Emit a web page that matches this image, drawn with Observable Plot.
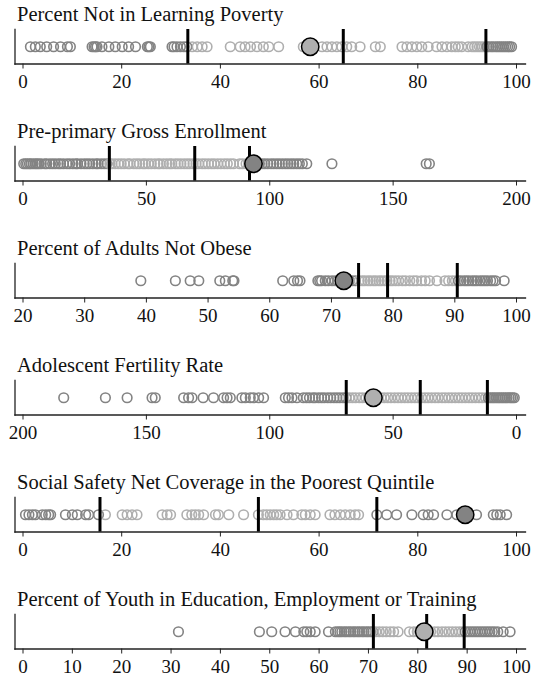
<!DOCTYPE html>
<html>
<head>
<meta charset="utf-8">
<script src="https://cdn.jsdelivr.net/npm/d3@7"></script>
<script src="https://cdn.jsdelivr.net/npm/@observablehq/plot@0.6"></script>
<style>
  html, body { margin: 0; padding: 0; background: #fff; }
  body { width: 533px; font-family: "Liberation Serif", serif; }
  .panel { position: relative; height: 117px; width: 533px; }
  .title { position: absolute; left: 17px; top: 4px; font-size: 20.5px; line-height: 20.5px; color: #111; white-space: nowrap; }
  .panel svg { position: absolute; left: 0; top: 26px; }
  .panel svg text { font-family: "Liberation Serif", serif !important; font-size: 19px !important; fill: #111; }
</style>
</head>
<body>
<div id="chart"></div>
<script>
// ---- Titles ----
const titles = [
  "Percent Not in Learning Poverty",
  "Pre-primary Gross Enrollment",
  "Percent of Adults Not Obese",
  "Adolescent Fertility Rate",
  "Social Safety Net Coverage in the Poorest Quintile",
  "Percent of Youth in Education, Employment or Training"
];

// ---- Panel 1: Percent Not in Learning Poverty ----
const learningValues = [1.5, 2.5, 3.5, 4.8, 6.2, 7.6, 9.0, 9.6,
  14.0, 14.4, 14.7, 15.0, 16.0, 17.4, 18.7, 20.1, 21.4, 22.8, 25.2, 25.5, 25.8,
  30.2, 30.6, 31.2, 31.9, 32.6, 33.2, 34.3, 35.3, 36.3, 37.3,
  42.0, 44.0, 45.0, 46.1, 47.4, 48.7, 49.8, 51.8,
  56.8, 60.6, 61.6, 62.6, 63.6, 64.6, 65.6, 66.6, 68.3,
  71.4, 72.4,
  76.8, 77.8, 78.8, 79.8, 80.8, 82.1, 83.8, 84.9, 85.9, 86.9, 87.6, 88.2, 88.9,
  90.2, 91.0, 91.5, 92.0, 92.5, 93.0, 93.5, 94.0, 94.4, 94.9, 95.3, 95.8, 96.2, 96.6, 97.0, 97.4, 97.8, 98.2, 98.6, 99.0];
const learningHighlight = 58.2;
const learningCuts = [33.4, 64.9, 93.8];
const learningTicks = [0, 20, 40, 60, 80, 100];
const learningDomain = [0, 100];

// ---- Panel 2: Pre-primary Gross Enrollment ----
const preprimaryValues = [0.3, 1.1, 1.8, 2.6, 3.2, 4.1, 5.0, 5.7, 6.5, 7.4, 8.8, 9.6, 10.9, 12.0, 13.1, 14.3, 15.2, 16.4, 17.8, 18.9,
  20.2, 21.4, 22.1, 23.5, 24.8, 25.9, 27.0, 28.3, 29.6, 30.4, 31.7, 32.9, 34.1, 35.2, 36.0, 37.3, 38.6, 39.8,
  41.0, 42.5, 43.3, 44.9, 46.1, 47.2, 48.6, 49.5, 50.8, 52.0, 53.4, 54.7, 55.5, 56.9, 58.2, 59.4,
  60.3, 61.7, 62.8, 64.0, 65.3, 66.5, 67.6, 68.9, 70.1, 71.2, 72.6, 73.8, 75.1, 76.4, 77.5, 78.9,
  80.2, 81.6, 82.8, 84.1, 85.3, 87.8, 89.0, 90.4, 91.5, 92.7, 94.6, 95.8, 96.9, 98.0, 99.2,
  100.5, 101.6, 102.8, 103.9, 105.1, 106.3, 107.4, 108.6, 109.7, 110.9, 112.0, 113.2, 115.0, 125.2, 163.4, 164.7];
const preprimaryHighlight = 93.4;
const preprimaryCuts = [35.0, 69.6, 91.8];
const preprimaryTicks = [0, 50, 100, 150, 200];
const preprimaryDomain = [0, 200];

// ---- Panel 3: Percent of Adults Not Obese ----
const obeseValues = [39.1, 44.7, 47.1, 48.5, 51.9, 52.8, 54.0, 54.2, 62.1, 63.9, 64.5, 64.9,
  67.8, 68.1, 68.4, 69.0, 69.5, 70.1, 70.6, 71.0, 71.5, 72.3, 72.9, 73.4, 73.9, 74.5, 75.0, 75.4, 75.9,
  76.3, 76.8, 77.2, 77.7, 78.1, 78.6, 79.0, 79.5, 79.9, 80.4, 80.9, 81.5, 82.0, 82.7, 83.3, 83.8, 84.6,
  85.2, 85.9, 87.1, 88.4, 89.0, 89.6, 90.1, 90.6, 91.0, 91.5, 91.9, 92.3, 92.8, 93.2, 93.6, 94.1, 94.5,
  94.9, 95.3, 95.8, 96.2, 96.6, 98.0];
const obeseHighlight = 72.0;
const obeseCuts = [74.4, 79.1, 90.4];
const obeseTicks = [20, 30, 40, 50, 60, 70, 80, 90, 100];
const obeseDomain = [20, 100];

// ---- Panel 4: Adolescent Fertility Rate (reversed axis) ----
const fertilityValues = [183.5, 166.6, 157.8, 147.7, 146.4, 134.9, 132.9, 131.5, 127.0, 122.8, 118.7, 117.3, 116.0,
  111.3, 109.9, 107.9, 106.6, 104.5, 102.5, 93.7, 92.4, 91.0, 89.0,
  86.4, 85.1, 83.9, 82.5, 81.6, 80.2, 79.0, 77.9, 76.5, 75.3, 74.0, 72.8, 71.6, 70.3, 69.1, 67.8, 66.5,
  65.2, 63.7, 62.4, 61.0, 59.6, 56.3, 54.9, 53.6, 52.2, 50.9, 49.4, 48.0, 46.7, 45.3, 44.0, 42.6, 41.2,
  39.9, 38.5, 37.1, 35.8, 34.4, 33.0, 31.7, 30.2, 28.9, 27.5, 26.2, 24.8, 23.4, 22.1, 20.7, 19.3, 18.0,
  16.6, 15.2, 13.9, 12.5, 11.4, 10.6, 9.8, 9.1, 8.3, 7.5, 6.8, 6.0, 5.3, 4.5, 3.8, 3.0, 2.3, 1.6, 0.9];
const fertilityHighlight = 58.0;
const fertilityCuts = [11.8, 39.0, 69.0];
const fertilityTicks = [200, 150, 100, 50, 0];
const fertilityDomain = [200, 0];

// ---- Panel 5: Social Safety Net Coverage in the Poorest Quintile ----
const safetyValues = [0.5, 1.2, 1.9, 2.5, 3.9, 4.6, 5.2, 5.6, 8.6, 10.0, 11.0, 12.7, 13.3, 15.3, 16.7,
  20.1, 21.1, 22.1, 23.1, 28.2, 29.2, 29.9, 33.2, 34.2, 34.9, 35.6, 36.6, 39.0, 39.6, 41.7, 44.7,
  47.7, 48.7, 49.4, 50.1, 50.8, 51.4, 52.1, 53.5, 54.8, 56.5, 57.2, 58.2, 59.2,
  62.2, 63.2, 64.3, 65.3, 66.3, 67.3, 68.0, 71.7, 73.7, 75.7, 78.8, 81.1, 82.1, 83.2, 85.9, 87.9,
  91.9, 95.3, 96.0, 96.7, 98.0];
const safetyHighlight = 89.6;
const safetyCuts = [15.6, 47.7, 71.7];
const safetyTicks = [0, 20, 40, 60, 80, 100];
const safetyDomain = [0, 100];

// ---- Panel 6: Percent of Youth in Education, Employment or Training ----
const youthValues = [31.5, 47.9, 50.4, 53.1, 55.2, 56.9, 57.5, 58.2, 59.2, 61.9,
  63.3, 63.8, 64.2, 64.6, 65.1, 65.5, 66.0, 66.4, 66.9, 67.3, 67.8, 68.2, 68.7, 69.1, 69.6, 70.0, 70.5,
  70.9, 71.5, 72.2, 72.9, 73.6, 74.4, 75.1, 76.0, 78.3, 79.2, 79.9, 80.6, 81.9, 82.6, 83.4, 84.1, 84.9,
  85.6, 86.3, 87.0, 87.7, 88.4, 89.0, 89.6, 90.1, 90.6, 91.1, 91.6, 92.1, 92.6, 93.1, 93.6, 94.1, 94.6,
  95.1, 95.6, 96.2, 97.3, 98.7];
const youthHighlight = 81.3;
const youthCuts = [71.0, 81.8, 89.4];
const youthTicks = [0, 10, 20, 30, 40, 50, 60, 70, 80, 90, 100];
const youthDomain = [0, 100];

// ---- Colours ----
const darkGray = "#838383";
const lightGray = "#afafaf";

const panels = [
  {values: learningValues, highlight: learningHighlight, cuts: learningCuts, ticks: learningTicks, domain: learningDomain},
  {values: preprimaryValues, highlight: preprimaryHighlight, cuts: preprimaryCuts, ticks: preprimaryTicks, domain: preprimaryDomain},
  {values: obeseValues, highlight: obeseHighlight, cuts: obeseCuts, ticks: obeseTicks, domain: obeseDomain},
  {values: fertilityValues, highlight: fertilityHighlight, cuts: fertilityCuts, ticks: fertilityTicks, domain: fertilityDomain},
  {values: safetyValues, highlight: safetyHighlight, cuts: safetyCuts, ticks: safetyTicks, domain: safetyDomain},
  {values: youthValues, highlight: youthHighlight, cuts: youthCuts, ticks: youthTicks, domain: youthDomain}
];

const root = document.getElementById("chart");
panels.forEach((p, i) => {
  const div = document.createElement("div");
  div.className = "panel";
  const t = document.createElement("div");
  t.className = "title";
  t.textContent = titles[i];
  div.appendChild(t);
  const cutsSorted = [...p.cuts].sort((a, b) => a - b);
  const svg = Plot.plot({
    width: 533,
    height: 70,
    marginTop: 3,
    marginBottom: 32.5,
    marginLeft: 14.5,
    marginRight: 8,
    insetLeft: 8,
    insetRight: 9,
    style: {background: "transparent", overflow: "visible", color: "#111"},
    x: {domain: p.domain, label: null, axis: null},
    color: {type: "threshold", domain: cutsSorted, range: [darkGray, lightGray, lightGray, darkGray]},
    marks: [
      Plot.frame({anchor: "bottom", stroke: "#222", strokeWidth: 1.3}),
      Plot.frame({anchor: "left", stroke: "#222", strokeWidth: 1.3}),
      Plot.axisX({ticks: p.ticks, tickFormat: d => String(d), label: null, tickSize: 5, tickPadding: 5,
                  fontSize: 19, fontFamily: "Liberation Serif", stroke: "#222"}),
      Plot.dot(p.values, {x: d => d, r: 4.8, stroke: d => d, fill: "none", strokeWidth: 1.6}),
      Plot.ruleX(p.cuts, {stroke: "#000", strokeWidth: 3}),
      Plot.dot([p.highlight], {x: d => d, r: 8.7, fill: d => d, stroke: "#000", strokeWidth: 1.5})
    ]
  });
  div.appendChild(svg);
  root.appendChild(div);
});
</script>
</body>
</html>
